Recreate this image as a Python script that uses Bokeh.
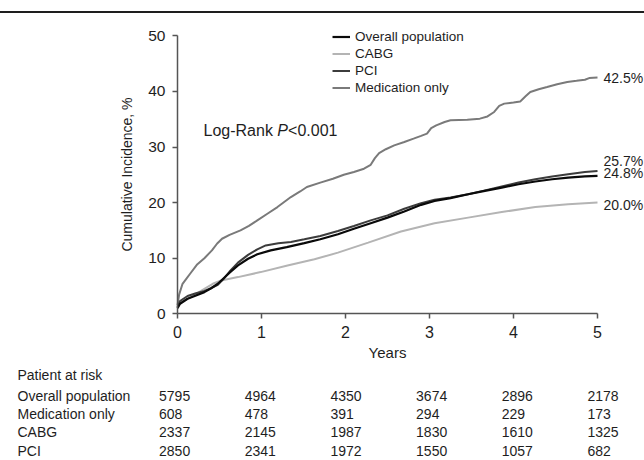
from bokeh.plotting import figure
from bokeh.models import Range1d, Legend, LegendItem, Label, Div, FixedTicker
from bokeh.layouts import column
from bokeh.embed import file_html
from bokeh.resources import INLINE
from bokeh.core.properties import value

FONT = "Liberation Sans"
TXT = "#1e1e1e"
AXC = "#555555"

# ---------------- data ----------------
x_ticks = [0, 1, 2, 3, 4, 5]
y_ticks = [0, 10, 20, 30, 40, 50]

t_overall = [0, 0.03, 0.12, 0.22, 0.32, 0.40, 0.48, 0.55, 0.62, 0.72, 0.84, 0.95, 1.11, 1.30, 1.51,
             1.70, 1.91, 2.10, 2.30, 2.50, 2.70, 2.90, 3.06, 3.25, 3.46, 3.66, 3.86, 4.06, 4.26,
             4.46, 4.65, 4.85, 5.0]
v_overall = [1.0, 1.8, 2.7, 3.3, 3.9, 4.6, 5.4, 6.4, 7.4, 8.7, 9.9, 10.7, 11.4, 12.0, 12.7,
             13.4, 14.3, 15.3, 16.3, 17.3, 18.4, 19.6, 20.3, 20.8, 21.5, 22.1, 22.7, 23.3, 23.8,
             24.2, 24.5, 24.7, 24.8]

t_pci = [0, 0.03, 0.12, 0.22, 0.32, 0.40, 0.48, 0.55, 0.62, 0.72, 0.84, 0.95, 1.05, 1.20, 1.35,
         1.51, 1.70, 1.91, 2.10, 2.30, 2.50, 2.70, 2.90, 3.06, 3.25, 3.46, 3.66, 3.86, 4.06,
         4.26, 4.46, 4.65, 4.85, 5.0]
v_pci = [1.2, 2.3, 3.2, 3.7, 4.1, 4.6, 5.2, 6.3, 7.6, 9.2, 10.6, 11.6, 12.3, 12.7, 12.9,
         13.4, 14.0, 14.9, 15.8, 16.8, 17.7, 18.9, 19.9, 20.5, 20.9, 21.5, 22.2, 22.9, 23.6,
         24.2, 24.7, 25.1, 25.5, 25.7]

t_cabg = [0, 0.05, 0.16, 0.32, 0.42, 0.52, 0.72, 0.99, 1.31, 1.63, 1.91, 2.27, 2.66, 3.06,
          3.46, 3.86, 4.26, 4.65, 5.0]
v_cabg = [1.2, 2.2, 3.0, 4.5, 5.4, 6.0, 6.6, 7.5, 8.7, 9.8, 11.0, 12.8, 14.8, 16.3,
          17.3, 18.3, 19.2, 19.7, 20.0]

t_med = [0, 0.02, 0.06, 0.10, 0.15, 0.23, 0.32, 0.41, 0.47, 0.53, 0.62, 0.75, 0.85, 0.95, 1.07,
         1.19, 1.35, 1.46, 1.54, 1.70, 1.85, 1.98, 2.10, 2.22, 2.30, 2.35, 2.40, 2.48, 2.58,
         2.70, 2.81, 2.90, 2.97, 3.02, 3.08, 3.18, 3.25, 3.45, 3.60, 3.69, 3.77, 3.83, 3.89,
         4.00, 4.08, 4.15, 4.20, 4.30, 4.40, 4.52, 4.64, 4.75, 4.85, 4.90, 5.0]
v_med = [1.5, 3.5, 5.4, 6.2, 7.2, 8.8, 10.0, 11.4, 12.6, 13.5, 14.2, 15.0, 15.8, 16.8, 18.0,
         19.2, 21.0, 22.0, 22.8, 23.6, 24.3, 25.0, 25.5, 26.1, 26.8, 28.0, 28.9, 29.6, 30.3,
         30.9, 31.5, 32.0, 32.4, 33.4, 33.9, 34.5, 34.8, 34.9, 35.1, 35.5, 36.3, 37.4, 37.8,
         38.0, 38.2, 39.2, 39.9, 40.4, 40.8, 41.3, 41.7, 41.9, 42.1, 42.4, 42.5]

risk_groups = ["Overall population", "Medication only", "CABG", "PCI"]
risk_overall = [5795, 4964, 4350, 3674, 2896, 2178]
risk_med = [608, 478, 391, 294, 229, 173]
risk_cabg = [2337, 2145, 1987, 1830, 1610, 1325]
risk_pci = [2850, 2341, 1972, 1550, 1057, 682]

# ---------------- layout geometry (pixels) ----------------
W, H = 644, 447            # figure size (starts 13px below page top)
X0_PX, PX_PER_YEAR = 177, 84.0
Y0_PX, PX_PER_PCT = 300.3, 5.56   # y=0 position from figure top

x_range = Range1d(-X0_PX / PX_PER_YEAR, (W - X0_PX) / PX_PER_YEAR)
y_range = Range1d(-(H - Y0_PX) / PX_PER_PCT, Y0_PX / PX_PER_PCT)

p = figure(width=W, height=H, x_range=x_range, y_range=y_range,
           output_backend="svg", toolbar_location=None, min_border=0,
           min_border_left=0, min_border_right=0, min_border_top=0, min_border_bottom=0)
p.outline_line_color = None
p.grid.visible = False
p.background_fill_color = "white"
p.border_fill_color = "white"

for ax in (p.xaxis[0], p.yaxis[0]):
    ax.fixed_location = 0
    ax.axis_line_color = AXC
    ax.axis_line_width = 1.5
    ax.major_tick_line_color = AXC
    ax.major_tick_line_width = 1.5
    ax.minor_tick_line_color = None
    ax.major_tick_in = 0
    ax.major_tick_out = 5
    ax.major_label_text_font = FONT
    ax.major_label_text_color = TXT
    ax.axis_label_text_font = FONT
    ax.axis_label_text_font_style = "normal"
    ax.axis_label_text_color = TXT

p.xaxis.bounds = (0, 5)
p.yaxis.bounds = (0, 50)
p.xaxis.ticker = FixedTicker(ticks=x_ticks)
p.yaxis.ticker = FixedTicker(ticks=y_ticks)
p.xaxis.major_label_text_font_size = "16px"
p.yaxis.major_label_text_font_size = "15.5px"
p.xaxis.axis_label = "Years"
p.xaxis.axis_label_text_font_size = "15px"
p.xaxis.major_label_standoff = 7
p.xaxis.axis_label_standoff = 3
p.yaxis.axis_label = "Cumulative Incidence, %"
p.yaxis.axis_label_text_font_size = "14px"
p.yaxis.major_label_standoff = 7
p.yaxis.axis_label_standoff = 10

r_cabg = p.line(t_cabg, v_cabg, line_color="#b4b4b4", line_width=2)
r_med = p.line(t_med, v_med, line_color="#7a7a7a", line_width=2)
r_pci = p.line(t_pci, v_pci, line_color="#3c3c3c", line_width=2)
r_ov = p.line(t_overall, v_overall, line_color="#0a0a0a", line_width=2.2)

legend = Legend(items=[LegendItem(label="Overall population", renderers=[r_ov]),
                       LegendItem(label="CABG", renderers=[r_cabg]),
                       LegendItem(label="PCI", renderers=[r_pci]),
                       LegendItem(label="Medication only", renderers=[r_med])],
                location=(332, H - 82.5), orientation="vertical",
                glyph_width=18, glyph_height=17, label_height=17, spacing=0,
                padding=0, margin=0, label_standoff=5,
                label_text_font=FONT, label_text_font_size="13.5px", label_text_color=TXT,
                border_line_color=None, background_fill_alpha=0)
p.add_layout(legend)

# end-value labels
end_series = [(v_med[-1], 0), (v_pci[-1], 10), (v_overall[-1], 3), (v_cabg[-1], -2)]
for val, nudge in end_series:
    p.add_layout(Label(x=5, y=val, x_offset=6, y_offset=nudge, text=f"{val:.1f}%",
                       text_font=FONT, text_font_size="14px", text_color=TXT,
                       text_baseline="middle", text_align="left"))

# Log-rank annotation
lr_x, lr_y = 0.31, 33.0
p.add_layout(Label(x=lr_x, y=lr_y, text="Log-Rank ", text_font=FONT, text_font_size="16px",
                   text_color=TXT, text_baseline="middle"))
p.add_layout(Label(x=lr_x, y=lr_y, x_offset=73.8, text="P", text_font=FONT, text_font_size="16px",
                   text_font_style="italic", text_color=TXT, text_baseline="middle"))
p.add_layout(Label(x=lr_x, y=lr_y, x_offset=84.5, text="<0.001", text_font=FONT,
                   text_font_size="16px", text_color=TXT, text_baseline="middle"))

# ---------------- risk table (below the axis) ----------------
def px_to_pct(page_y):
    return (Y0_PX + 13 - page_y) / PX_PER_PCT

label_x = (17 - X0_PX) / PX_PER_YEAR
col_x = [yr * 1.02 - 0.22 for yr in x_ticks]
p.text(x=[label_x], y=[px_to_pct(374)], text=["Patient at risk"], text_font=value(FONT),
       text_font_size="14px", text_color=TXT, text_baseline="middle", text_align="left")
row_page_y = [395, 413, 431, 450]
for name, counts, ry in zip(risk_groups, [risk_overall, risk_med, risk_cabg, risk_pci], row_page_y):
    yv = px_to_pct(ry)
    p.text(x=[label_x], y=[yv], text=[name], text_font=value(FONT), text_font_size="14px",
           text_color=TXT, text_baseline="middle", text_align="left")
    p.text(x=col_x, y=[yv] * len(counts), text=[str(c) for c in counts], text_font=value(FONT),
           text_font_size="14px", text_color=TXT, text_baseline="middle", text_align="left")

rule = Div(width=W, height=2, margin=(11, 0, 0, 0), styles={"background-color": "#1e1e1e"})

layout = column(rule, p, spacing=0)
open("out.html", "w").write(file_html(layout, INLINE))
